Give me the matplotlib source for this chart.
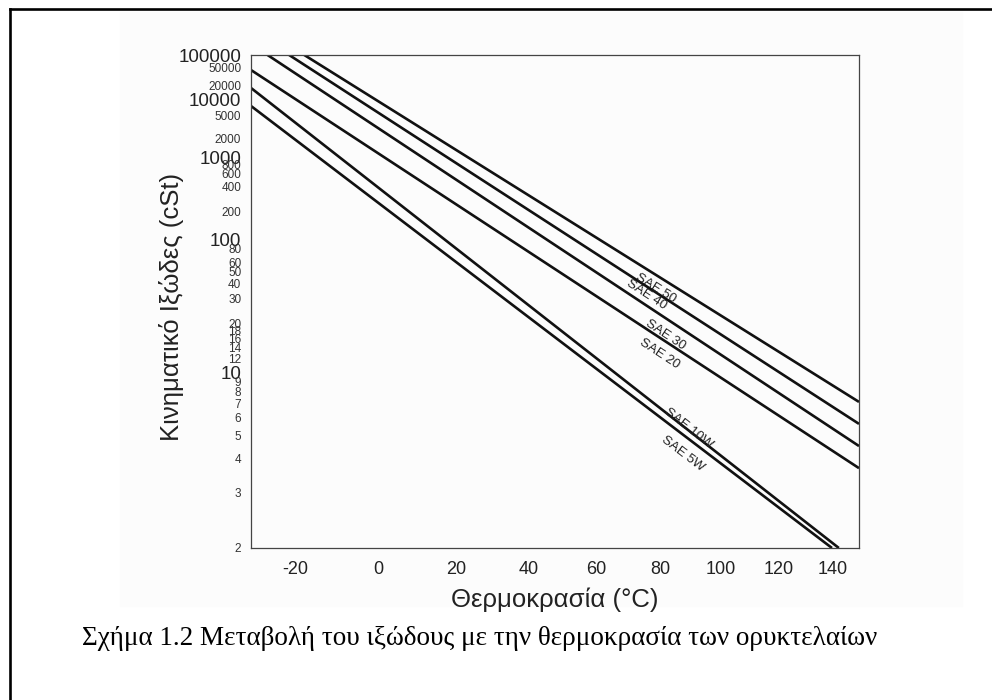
import numpy as np
import matplotlib
matplotlib.use('Agg')
import matplotlib.pyplot as plt
from matplotlib.ticker import FixedLocator, FixedFormatter
from matplotlib.lines import Line2D
from matplotlib.patches import Rectangle

plt.rcParams['font.family'] = ['Liberation Sans', 'DejaVu Sans']

# oil grades, each one is a straight line on the viscosity-temperature chart
grades = ['SAE 5W', 'SAE 10W', 'SAE 20', 'SAE 30', 'SAE 40', 'SAE 50']
t_start = [-30, -30, -30, -26.3, -21.4, -17.9]
v_start = [7600, 17550, 43700, 100000, 100000, 100000]
t_end = [139.7, 142.3, 150, 150, 150, 150]
v_end = [2, 2, 3.68, 4.5, 5.6, 7.09]

# where the grade names sit along their lines
label_temp = [90.3, 88.9, 82.0, 84.0, 76.6, 80.4]
label_off = [-11, 1, -10, -10, -5, -8]

x_ticks = [-20, 0, 20, 40, 60, 80, 100, 120, 140]
y_major = [10, 100, 1000, 10000, 100000]
y_minor = [2, 3, 4, 5, 6, 7, 8, 9, 12, 14, 16, 18, 20, 30, 40, 50, 60, 80,
           200, 400, 600, 800, 2000, 5000, 20000, 50000]


def temp_fwd(t):
    with np.errstate(all='ignore'):
        return np.log10(np.asarray(t, float) + 273.15)


def temp_inv(u):
    with np.errstate(all='ignore'):
        return 10 ** np.asarray(u, float) - 273.15


# Walther / ASTM style viscosity axis
def visc_fwd(v):
    with np.errstate(all='ignore'):
        return np.log10(np.log10(np.asarray(v, float) + 0.7))


def visc_inv(w):
    with np.errstate(all='ignore'):
        return 10 ** (10 ** np.asarray(w, float)) - 0.7


fig = plt.figure(figsize=(9.92, 7), dpi=100)

# scanned page tint + frame of the figure box
fig.patches.append(Rectangle((120 / 992, 1 - 606 / 700), 842 / 992, 594 / 700,
                             transform=fig.transFigure, color='#fcfcfc', zorder=-5))
fig.add_artist(Line2D([10 / 992, 10 / 992], [0, 1 - 9 / 700], color='black', lw=1.9,
                      transform=fig.transFigure))
fig.add_artist(Line2D([10 / 992, 1], [1 - 9 / 700, 1 - 9 / 700], color='black', lw=1.9,
                      transform=fig.transFigure))

ax = fig.add_axes([251 / 992, 152 / 700, 608 / 992, 493 / 700])
ax.set_zorder(3)
ax.set_facecolor('none')
ax.set_xscale('function', functions=(temp_fwd, temp_inv))
ax.set_yscale('function', functions=(visc_fwd, visc_inv))
ax.set_xlim(-30, 150)
ax.set_ylim(2, 100000)

for i in range(len(grades)):
    ax.plot([t_start[i], t_end[i]], [v_start[i], v_end[i]], color='#111111', lw=1.9,
            solid_capstyle='butt')

for i in range(len(grades)):
    p0 = ax.transData.transform((t_start[i], v_start[i]))
    p1 = ax.transData.transform((t_end[i], v_end[i]))
    ang = np.degrees(np.arctan2(p1[1] - p0[1], p1[0] - p0[0]))
    u0, u1 = temp_fwd(t_start[i]), temp_fwd(t_end[i])
    w0, w1 = visc_fwd(v_start[i]), visc_fwd(v_end[i])
    frac = (temp_fwd(label_temp[i]) - u0) / (u1 - u0)
    v_lab = visc_inv(w0 + frac * (w1 - w0))
    a = np.radians(ang)
    off = label_off[i]
    ax.annotate(grades[i], (label_temp[i], v_lab),
                xytext=(-off * np.sin(a), off * np.cos(a)), textcoords='offset points',
                ha='center', va='center', rotation=ang, rotation_mode='anchor',
                fontsize=9.5, color='#222222')

ax.xaxis.set_major_locator(FixedLocator(x_ticks))
ax.xaxis.set_major_formatter(FixedFormatter([str(t) for t in x_ticks]))
ax.xaxis.set_minor_locator(FixedLocator([]))
ax.yaxis.set_major_locator(FixedLocator(y_major))
ax.yaxis.set_major_formatter(FixedFormatter([str(v) for v in y_major]))
ax.yaxis.set_minor_locator(FixedLocator(y_minor))
ax.yaxis.set_minor_formatter(FixedFormatter([str(v) for v in y_minor]))

ax.tick_params(axis='x', which='both', length=0, pad=9, labelsize=13, labelcolor='#222222')
ax.tick_params(axis='y', which='major', length=0, pad=7, labelsize=13.5, labelcolor='#222222')
ax.tick_params(axis='y', which='minor', length=0, pad=7, labelsize=8.5, labelcolor='#333333')

for s in ax.spines.values():
    s.set_color('#444444')
    s.set_linewidth(0.9)

fig.text(555 / 992, 1 - 600 / 700, 'Θερμοκρασία (°C)', ha='center', va='center',
         fontsize=18.5, color='#222222')
fig.text(172 / 992, 1 - 307 / 700, 'Κινηματικό Ιξώδες (cSt)', ha='center', va='center',
         rotation=90, fontsize=18.5, color='#222222')

fig.text(82 / 992, 55 / 700,
         'Σχήμα 1.2 Μεταβολή του ιξώδους με την θερμοκρασία των ορυκτελαίων',
         ha='left', va='baseline', fontsize=19.5, family=['Liberation Serif', 'DejaVu Serif'],
         color='black')

fig.savefig('out.png', dpi=100)
